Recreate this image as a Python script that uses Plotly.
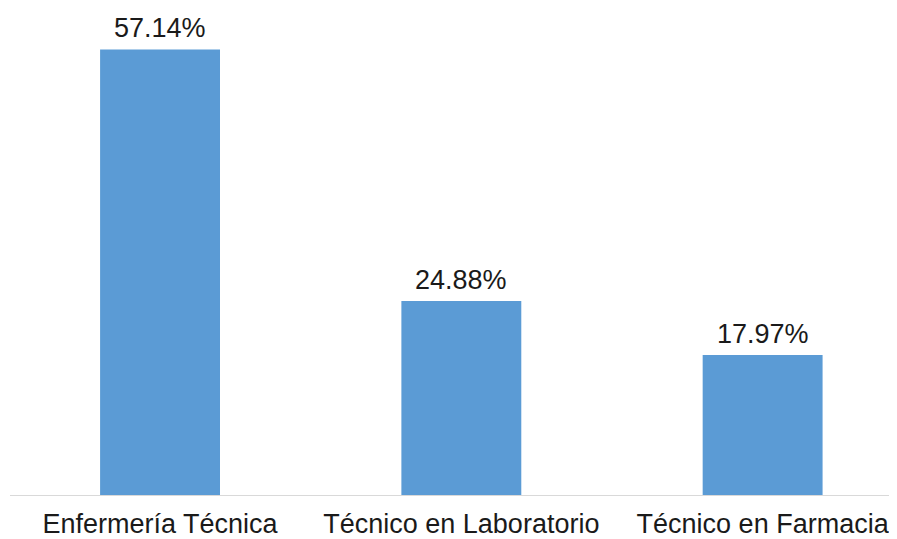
import plotly.graph_objects as go

categories = ["Enfermería Técnica", "Técnico en Laboratorio", "Técnico en Farmacia"]
values = [57.14, 24.88, 17.97]
labels = ["57.14%", "24.88%", "17.97%"]

FONT = "Liberation Sans, Arial"

fig = go.Figure()
fig.add_trace(go.Bar(
    x=categories, y=values, width=0.398,
    marker=dict(color="#5b9bd5", line=dict(width=0)),
    hoverinfo="skip",
))
for c, v, t in zip(categories, values, labels):
    fig.add_annotation(x=c, y=v, text=t, showarrow=False, yanchor="bottom",
                       yshift=4, font=dict(family=FONT, size=27, color="#1a1a1a"))

# page body has an 8px default margin; size the figure to fill the rest
fig.update_layout(
    width=889, height=531,
    margin=dict(l=2, r=0, t=2, b=44, autoexpand=False),
    paper_bgcolor="white", plot_bgcolor="white",
    showlegend=False,
    font=dict(family=FONT, size=27, color="#1a1a1a"),
)
fig.update_xaxes(range=[-0.498, 2.446], showline=True, linecolor="#d9d9d9", linewidth=1,
                 ticks="", showgrid=False, ticklabelstandoff=5, automargin=False,
                 tickfont=dict(size=27, color="#1a1a1a"))
fig.update_yaxes(range=[0, 62.2], visible=False, showgrid=False, automargin=False)

fig.write_html("out.html")
